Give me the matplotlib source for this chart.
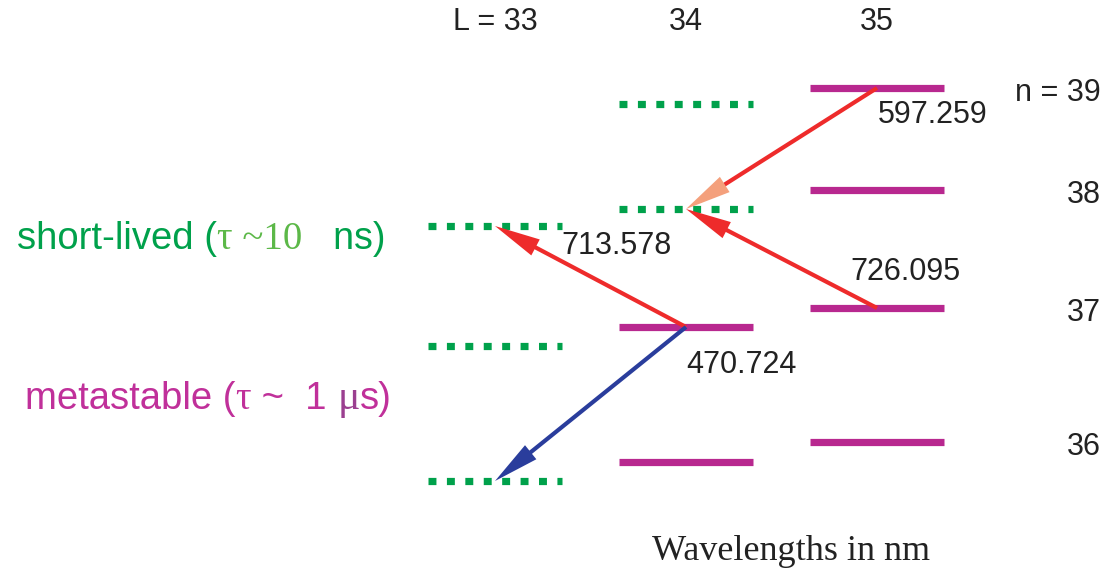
import numpy as np
import matplotlib.pyplot as plt
from matplotlib.patches import FancyArrowPatch

# energy levels: orbital quantum number L, principal n, level height (arb. units, 0 = top)
level_L = [33, 33, 33, 34, 34, 34, 34, 35, 35, 35, 35]
level_n = [38, 37, 36, 39, 38, 37, 36, 39, 38, 37, 36]
level_y = [226, 346, 481, 104, 209, 327, 462, 88, 190, 308, 442]
# short-lived (dotted) or metastable (solid)
level_kind = ["short", "short", "short", "short", "short", "meta", "meta",
              "meta", "meta", "meta", "meta"]

# transitions (from L, n) -> (to L, n), wavelength in nm
trans_from = [(35, 39), (35, 37), (34, 37), (34, 37)]
trans_to = [(34, 38), (34, 38), (33, 38), (33, 36)]
trans_nm = ["597.259", "726.095", "713.578", "470.724"]
trans_color = ["#ee2b2b", "#ee2b2b", "#ee2b2b", "#2a3d9c"]
head_color = ["#f4a07c", "#ee2b2b", "#ee2b2b", "#2a3d9c"]

L_labels = ["L = 33", "34", "35"]
n_labels = ["n = 39", "38", "37", "36"]

green = "#00a14b"
magenta = "#b8288f"

level_pos = {(L, n): y for L, n, y in zip(level_L, level_n, level_y)}

fig = plt.figure(figsize=(11.16, 5.71), dpi=100)
ax = fig.add_axes([0, 0, 1, 1])
px = 191.0  # pixels per unit of L
ax.set_xlim(33 - 495 / px, 33 + 621 / px)
ax.set_ylim(571, 0)
ax.axis("off")

half = 0.35
for L, n, y, kind in zip(level_L, level_n, level_y, level_kind):
    if kind == "short":
        ax.plot([L - half, L + half], [y, y], color=green, lw=5.2,
                linestyle=(0, (1.1, 1.45)), solid_capstyle="butt",
                dash_capstyle="butt")
    else:
        ax.plot([L - half, L + half], [y, y], color=magenta, lw=5.2,
                solid_capstyle="butt")

# arrows: stem as a line, head as a filled triangle
head_px = 44
for (La, na), (Lb, nb), col, hcol in zip(trans_from, trans_to,
                                         trans_color, head_color):
    ya = level_pos[(La, na)]
    yb = level_pos[(Lb, nb)]
    length = np.hypot((Lb - La) * px, yb - ya)
    f = (head_px - 4) / length
    ax.plot([La, Lb + f * (La - Lb)], [ya, yb + f * (ya - yb)],
            color=col, lw=3.0, solid_capstyle="butt", zorder=3)
    arr = FancyArrowPatch((La, ya), (Lb, yb),
                          arrowstyle="-|>,head_length=33,head_width=6.5",
                          mutation_scale=1, color=hcol, lw=0,
                          shrinkA=0, shrinkB=0, zorder=4)
    ax.add_patch(arr)

# wavelength labels
label_xy = [(35.005, 115), (34.86, 272), (33.35, 246), (34.0, 365)]
for (x, y), s in zip(label_xy, trans_nm):
    ax.text(x, y, s, fontsize=22, family="Liberation Sans", color="#222222",
            ha="left", va="center")

# column and row labels
for L, s in zip([33, 34, 35], L_labels):
    ax.text(L, 22, s, fontsize=22, family="Liberation Sans", color="#222222",
            ha="center", va="center")
for n, s in zip([39, 38, 37, 36], n_labels):
    ax.text(36.17, level_pos[(35, n)] + 5, s, fontsize=22,
            family="Liberation Sans", color="#222222", ha="right", va="center")


def chain(parts, x, y):
    prev = None
    for s, fam, col, size in parts:
        if prev is None:
            prev = ax.text(x, y, s, fontsize=size, family=fam, color=col,
                           ha="left", va="baseline")
        else:
            prev = ax.annotate(s, xy=(1, y), xycoords=(prev, "data"),
                               fontsize=size, family=fam, color=col,
                               ha="left", va="baseline")


sans = "Liberation Sans"
serif = "Liberation Serif"
chain([("short-lived (", sans, green, 27.5),
       ("τ ~10", serif, "#5cb848", 28),
       ("   ns)", sans, green, 27)], 30.497, 249)
chain([("metastable (", sans, "#c0309a", 27.5),
       ("τ", serif, "#c0309a", 28),
       (" ~  1 ", sans, "#c0309a", 27.5),
       ("μ", serif, "#9b3f90", 30),
       ("s)", sans, "#c0309a", 27.5)], 30.54, 409)

ax.text(34.55, 551, "Wavelengths in nm", fontsize=26, family=serif,
        color="#222222", ha="center", va="center")

fig.savefig("out.png", dpi=100)
